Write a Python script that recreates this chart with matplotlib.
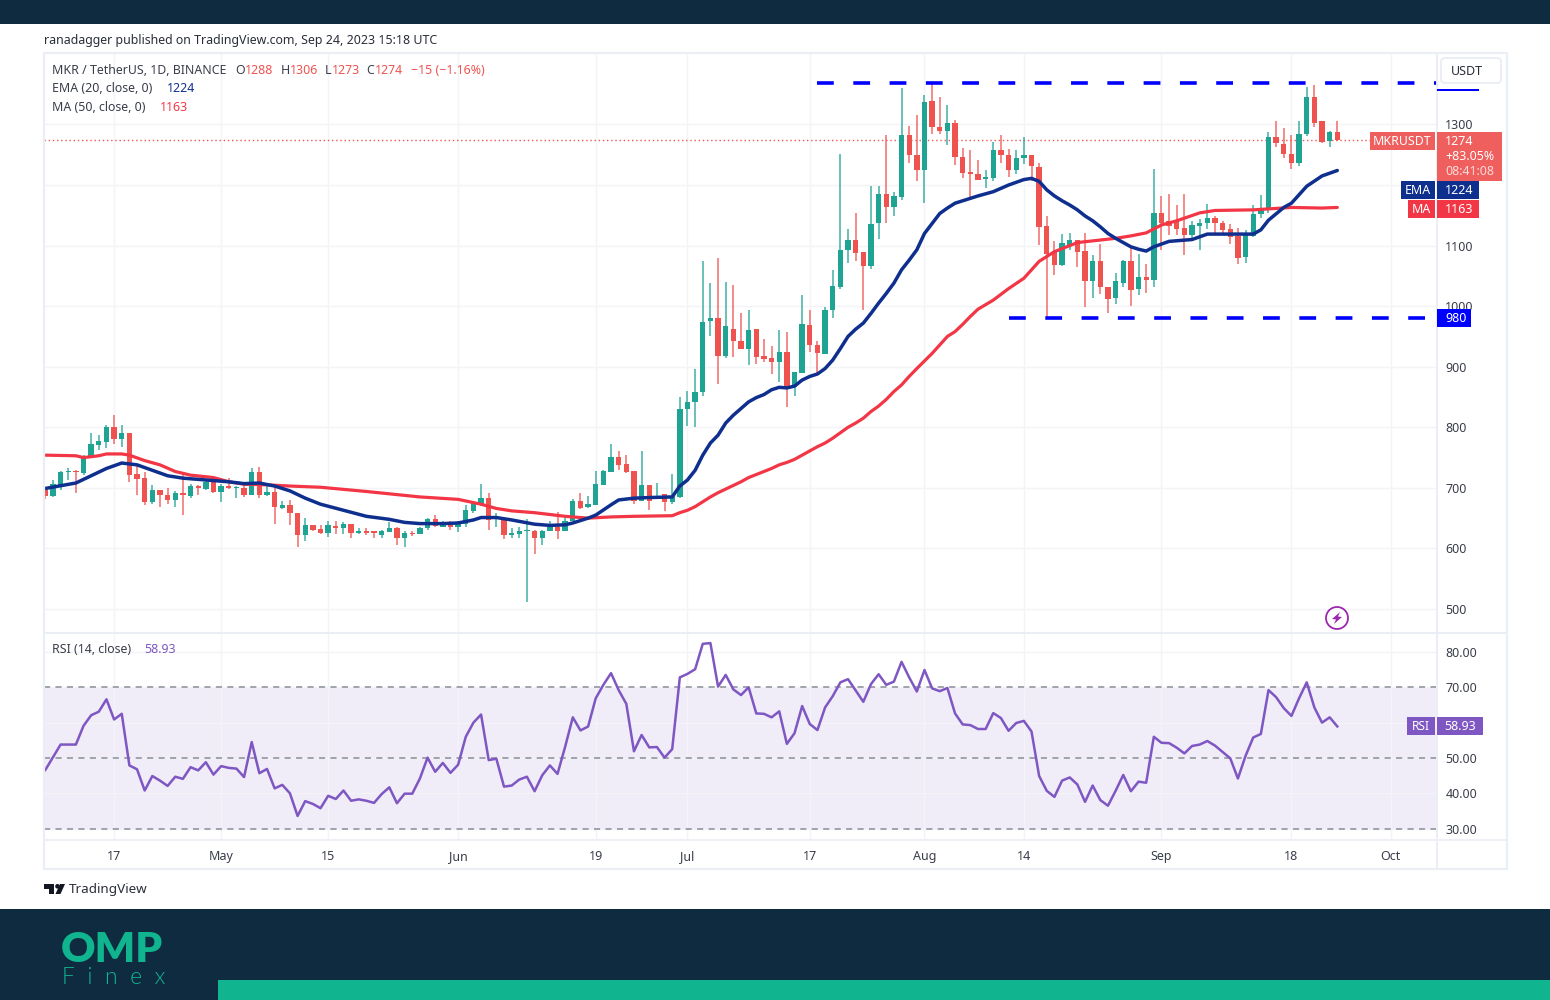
import matplotlib
matplotlib.use('Agg')
import matplotlib.pyplot as plt
import matplotlib.dates as mdates
from matplotlib.patches import Rectangle, FancyBboxPatch, Circle, Polygon
import numpy as np
import pandas as pd

plt.rcParams['font.family'] = ['Noto Sans', 'DejaVu Sans']

# daily candles, Apr 8 .. Sep 24 2023
start_date = '2023-04-08'
opens = [696, 687, 701, 726, 728, 725, 752, 771, 776, 801,
         780, 790, 723, 717, 677, 697, 688, 680, 691, 687,
         703, 698, 709, 693, 703, 699, 700, 689, 726, 688,
         693, 667, 672, 659, 622, 638, 632, 626, 637, 633,
         640, 625, 628, 628, 622, 627, 634, 617, 625, 624,
         633, 648, 636, 643, 635, 640, 662, 673, 683, 648,
         648, 622, 624, 628, 629, 617, 628, 635, 628, 646,
         679, 669, 672, 705, 727, 751, 739, 728, 678, 705,
         682, 690, 677, 685, 831, 842, 858, 976, 980, 917,
         963, 943, 930, 963, 917, 914, 908, 924, 867, 890,
         969, 936, 921, 993, 1031, 1092, 1109, 1089, 1066, 1137,
         1185, 1164, 1180, 1283, 1250, 1224, 1339, 1296, 1289, 1303,
         1247, 1222, 1218, 1210, 1211, 1258, 1250, 1224, 1244, 1250,
         1230, 1132, 1090, 1068, 1099, 1110, 1091, 1041, 1075, 1031,
         1013, 1039, 1075, 1028, 1048, 1044, 1154, 1141, 1141, 1129,
         1117, 1133, 1137, 1145, 1138, 1127, 1116, 1081, 1116, 1152,
         1159, 1279, 1268, 1252, 1237, 1285, 1346, 1305, 1272, 1288]
highs = [700, 713, 728, 732, 729, 754, 790, 787, 803, 821,
         804, 790, 738, 727, 705, 697, 699, 695, 721, 707,
         704, 714, 710, 707, 716, 703, 705, 732, 734, 706,
         701, 678, 680, 659, 650, 639, 639, 646, 645, 644,
         641, 634, 634, 628, 630, 643, 636, 629, 629, 636,
         650, 656, 645, 646, 645, 672, 678, 706, 692, 658,
         650, 634, 636, 648, 630, 630, 646, 660, 650, 682,
         692, 686, 728, 730, 772, 761, 754, 728, 761, 705,
         708, 690, 723, 850, 860, 897, 1075, 1038, 1080, 1040,
         1035, 989, 993, 963, 946, 935, 961, 958, 892, 1018,
         994, 942, 998, 1059, 1251, 1127, 1154, 1089, 1198, 1198,
         1283, 1189, 1361, 1298, 1316, 1348, 1370, 1345, 1332, 1307,
         1261, 1258, 1241, 1225, 1271, 1283, 1260, 1258, 1280, 1250,
         1236, 1149, 1107, 1119, 1120, 1110, 1120, 1084, 1102, 1031,
         1054, 1077, 1098, 1086, 1069, 1227, 1182, 1185, 1167, 1185,
         1141, 1144, 1169, 1149, 1140, 1136, 1129, 1126, 1167, 1183,
         1288, 1305, 1294, 1283, 1305, 1362, 1365, 1306, 1290, 1306]
lows = [682, 685, 697, 713, 692, 721, 750, 762, 765, 773,
        767, 709, 689, 671, 674, 669, 674, 669, 655, 684,
        689, 696, 692, 677, 698, 684, 685, 688, 684, 686,
        640, 665, 639, 603, 612, 628, 624, 619, 624, 624,
        618, 624, 622, 618, 618, 627, 606, 602, 620, 624,
        631, 635, 635, 631, 627, 636, 658, 670, 630, 635,
        616, 618, 618, 511, 591, 606, 628, 615, 628, 646,
        665, 666, 671, 704, 727, 729, 724, 674, 678, 663,
        681, 662, 674, 684, 802, 800, 851, 950, 871, 914,
        916, 929, 903, 905, 908, 888, 875, 833, 852, 890,
        925, 888, 921, 981, 1029, 1072, 1075, 994, 1061, 1111,
        1138, 1149, 1175, 1236, 1206, 1170, 1284, 1285, 1266, 1233,
        1211, 1175, 1209, 1195, 1207, 1237, 1213, 1218, 1235, 1206,
        1101, 982, 1052, 1066, 1093, 1064, 999, 1013, 1020, 988,
        1003, 1032, 1001, 1019, 1021, 1032, 1092, 1118, 1118, 1084,
        1109, 1092, 1127, 1118, 1119, 1103, 1070, 1072, 1115, 1145,
        1154, 1262, 1244, 1227, 1231, 1281, 1295, 1269, 1263, 1273]
closes = [686, 706, 727, 728, 726, 752, 772, 777, 801, 780,
          790, 722, 715, 677, 697, 689, 680, 692, 688, 703,
          699, 709, 693, 703, 699, 701, 689, 726, 689, 693,
          668, 672, 659, 622, 638, 630, 625, 638, 633, 640,
          626, 628, 626, 626, 629, 634, 617, 625, 624, 634,
          649, 637, 643, 635, 642, 663, 676, 683, 647, 652,
          622, 625, 629, 630, 617, 629, 636, 628, 646, 679,
          667, 674, 706, 728, 751, 738, 727, 679, 705, 679,
          687, 677, 686, 831, 842, 859, 974, 981, 917, 967,
          943, 930, 960, 916, 912, 908, 924, 864, 892, 971,
          936, 923, 993, 1034, 1093, 1109, 1088, 1066, 1136, 1185,
          1164, 1182, 1283, 1250, 1224, 1337, 1295, 1289, 1303, 1246,
          1220, 1218, 1209, 1213, 1258, 1249, 1224, 1245, 1250, 1231,
          1131, 1086, 1068, 1104, 1109, 1090, 1041, 1075, 1032, 1012,
          1042, 1075, 1027, 1048, 1044, 1154, 1138, 1133, 1128, 1117,
          1134, 1137, 1145, 1137, 1126, 1115, 1079, 1118, 1152, 1159,
          1279, 1269, 1251, 1237, 1284, 1346, 1302, 1271, 1288, 1274]

# moving averages read at selected days (1 = first candle)
ema_days = [1, 5, 7, 9, 11, 13, 15, 17, 19, 22, 25, 27, 29, 31, 33, 35, 37, 40, 43, 46,
            48, 50, 53, 55, 57, 58, 60, 62, 65, 67, 69, 70, 72, 73, 75, 76, 78, 80, 83, 84,
            85, 86, 87, 88, 89, 90, 91, 92, 93, 94, 95, 96, 97, 98, 99, 100, 101, 102, 103, 104,
            105, 106, 107, 108, 109, 110, 111, 112, 113, 114, 115, 116, 118, 119, 120, 121, 122, 123, 125, 127,
            129, 130, 131, 132, 133, 134, 135, 136, 137, 138, 139, 140, 141, 142, 143, 144, 145, 146, 148, 151,
            153, 157, 159, 160, 161, 163, 164, 165, 166, 168, 170]
ema_vals = [699, 708, 720, 732, 741, 738, 729, 720, 716, 713, 710, 707, 708, 703, 695, 683, 673, 663, 653, 648,
            643, 641, 641, 642, 647, 651, 651, 647, 640, 638, 639, 642, 650, 655, 672, 680, 683, 684, 685, 703,
            713, 729, 754, 774, 787, 807, 820, 831, 842, 849, 854, 862, 866, 865, 868, 878, 884, 888, 897, 911,
            930, 950, 962, 972, 988, 1005, 1021, 1038, 1060, 1076, 1093, 1120, 1153, 1162, 1170, 1174, 1178, 1182, 1189, 1200,
            1209, 1211, 1206, 1192, 1182, 1174, 1167, 1159, 1149, 1141, 1131, 1120, 1112, 1105, 1098, 1094, 1091, 1098, 1107, 1110,
            1119, 1119, 1119, 1126, 1142, 1163, 1170, 1184, 1198, 1215, 1224]
ma_days = [1, 5, 6, 8, 9, 11, 12, 14, 16, 18, 20, 23, 25, 27, 30, 33, 37, 43, 50, 55,
           58, 60, 62, 65, 69, 72, 75, 78, 83, 84, 85, 86, 87, 88, 89, 90, 91, 92, 93, 94,
           95, 96, 97, 98, 99, 100, 101, 102, 103, 104, 105, 106, 107, 108, 109, 110, 111, 112, 113, 114,
           115, 117, 119, 120, 121, 122, 123, 125, 127, 129, 131, 133, 136, 141, 143, 145, 147, 149, 152, 154,
           159, 164, 168, 170]
ma_vals = [754, 753, 750, 753, 756, 756, 754, 745, 738, 727, 721, 717, 710, 706, 705, 703, 701, 694, 685, 681,
           673, 666, 662, 659, 653, 650, 652, 653, 654, 659, 663, 669, 677, 685, 692, 698, 704, 710, 717, 722,
           727, 732, 738, 742, 747, 754, 761, 768, 774, 782, 791, 800, 807, 815, 826, 835, 846, 859, 870, 884,
           897, 922, 950, 958, 970, 983, 995, 1010, 1029, 1046, 1074, 1090, 1105, 1112, 1116, 1121, 1134, 1141, 1154, 1158,
           1159, 1163, 1162, 1163]

rsi = [46.6, 50.2, 53.8, 53.8, 53.8, 59.1, 62.1, 63.1, 66.6, 60.9,
       62.5, 47.9, 46.8, 40.8, 44.9, 43.6, 42.1, 44.7, 44.1, 47.4,
       46.5, 48.8, 45.3, 47.7, 47.2, 47.0, 44.6, 54.5, 45.7, 46.9,
       41.4, 42.4, 40.0, 33.6, 37.8, 37.0, 35.8, 39.3, 38.4, 40.8,
       37.9, 38.3, 37.9, 37.3, 39.8, 41.7, 37.2, 39.9, 39.9, 44.2,
       50.1, 46.1, 48.6, 45.8, 48.1, 56.0, 60.0, 62.3, 49.4, 49.8,
       41.9, 42.2, 43.9, 44.7, 40.6, 45.1, 47.9, 45.5, 53.2, 61.5,
       57.8, 58.9, 66.9, 70.7, 74.0, 69.2, 65.3, 51.9, 56.5, 53.0,
       53.1, 50.1, 52.5, 72.8, 73.8, 75.1, 82.3, 82.5, 70.2, 73.5,
       69.4, 67.8, 70.0, 62.6, 62.5, 61.5, 63.2, 54.0, 57.0, 64.7,
       59.6, 57.9, 64.3, 67.5, 71.4, 72.3, 69.1, 65.9, 70.9, 73.7,
       70.7, 71.6, 77.2, 72.8, 68.8, 74.9, 69.7, 68.9, 69.8, 62.6,
       59.5, 59.3, 58.2, 58.2, 62.7, 61.3, 57.7, 59.9, 60.5, 57.5,
       44.9, 40.7, 39.0, 43.6, 44.5, 42.5, 37.6, 42.2, 38.1, 36.5,
       40.7, 45.2, 40.6, 43.3, 43.0, 56.0, 54.3, 54.2, 52.9, 51.3,
       53.4, 53.8, 54.8, 53.5, 51.7, 49.9, 44.2, 50.6, 55.8, 56.8,
       69.2, 67.2, 64.1, 61.9, 66.9, 71.4, 64.3, 60.0, 61.5, 58.93]

price_ticks = [500, 600, 700, 800, 900, 1000, 1100, 1200, 1300]
price_tick_labels = ['500', '600', '700', '800', '900', '1000', '1100', '', '1300']
rsi_ticks = [30, 40, 50, 60, 70, 80]
rsi_tick_labels = ['30.00', '40.00', '50.00', '', '70.00', '80.00']
date_ticks = ['2023-04-17', '2023-05-01', '2023-05-15', '2023-06-01', '2023-06-19', '2023-07-01',
              '2023-07-17', '2023-08-01', '2023-08-14', '2023-09-01', '2023-09-18', '2023-10-01']
date_labels = ['17', 'May', '15', 'Jun', '19', 'Jul', '17', 'Aug', '14', 'Sep', '18', 'Oct']
resistance = 1369
support = 980
resistance_from = '2023-07-18'
support_from = '2023-08-12'
last_price = 1274

BAND = '#0f2b3f'
TEAL = '#10b48f'
UP = '#1fa393'
DOWN = '#ef5350'
NAVY = '#0f2f8f'
MA_RED = '#f23645'
PURPLE = '#7e57c2'
LINE_BLUE = '#0000ff'
GRID = '#f3f4f8'
BORDER = '#eceef5'
INK = '#3a3e4a'
W, H = 1550, 1000


def px_axes(left, top, right, bottom, **kw):
    return fig.add_axes([left / W, 1 - bottom / H, (right - left) / W, (bottom - top) / H], **kw)


fig = plt.figure(figsize=(15.5, 10), dpi=100, facecolor='white')

days = mdates.date2num(pd.date_range(start_date, periods=len(closes)))
px_per_day = 7.645
x0 = days[0] - (45.3 - 44) / px_per_day
x1 = days[0] + (1437 - 45.3) / px_per_day
ticks = mdates.date2num(pd.to_datetime(date_ticks))

# price pane
ax = px_axes(44, 53, 1437, 632)
ax.set_xlim(x0, x1)
ax.set_ylim(462, 1418)
ax.set_yticks(price_ticks)
ax.set_yticklabels(price_tick_labels)
ax.set_xticks(ticks)
ax.set_xticklabels([])
ax.yaxis.tick_right()
ax.tick_params(length=0, labelsize=9, labelcolor=INK, pad=6)
ax.grid(color=GRID, lw=1)
ax.set_axisbelow(True)
for s in ax.spines.values():
    s.set_visible(False)

o = np.array(opens)
c = np.array(closes)
colors = [UP if b >= a else DOWN for a, b in zip(o, c)]
ax.vlines(days, lows, highs, colors=colors, lw=1.1, alpha=0.85, zorder=2)
ax.bar(days, np.maximum(np.abs(c - o), 2), bottom=np.minimum(o, c), width=0.7, color=colors, zorder=3)

ax.plot(days[np.array(ma_days) - 1], ma_vals, color=MA_RED, lw=2.3, zorder=4, solid_capstyle='round')
ax.plot(days[np.array(ema_days) - 1], ema_vals, color=NAVY, lw=2.5, zorder=5, solid_capstyle='round')

ax.axhline(last_price, color=DOWN, lw=1, ls=(0, (1, 2)), zorder=1)
for level, when in [(resistance, resistance_from), (support, support_from)]:
    ax.plot([mdates.date2num(pd.Timestamp(when)), x1], [level, level], color=LINE_BLUE, lw=2.6,
            ls=(0, (4.65, 5.4)), dash_capstyle='butt', zorder=6)

# rsi pane
ax2 = px_axes(44, 633, 1437, 840)
ax2.set_xlim(x0, x1)
ax2.set_ylim(26.8, 85.36)
ax2.axhspan(30, 70, color=PURPLE, alpha=0.11, lw=0, zorder=0)
ax2.set_yticks(rsi_ticks)
ax2.set_yticklabels(rsi_tick_labels)
ax2.set_xticks(ticks)
ax2.set_xticklabels(date_labels)
ax2.yaxis.tick_right()
ax2.tick_params(axis='y', length=0, labelsize=9, labelcolor=INK, pad=6)
ax2.tick_params(axis='x', length=0, labelsize=9, labelcolor=INK, pad=7.5)
ax2.grid(color=GRID, lw=1)
ax2.set_axisbelow(True)
for s in ax2.spines.values():
    s.set_visible(False)
for level in [70, 50, 30]:
    ax2.axhline(level, color='#8a8d96', lw=1.1, ls=(0, (4, 3.5)), zorder=1)
ax2.plot(days, rsi, color=PURPLE, lw=1.8, zorder=4)

# everything around the panes, in image pixels
ov = fig.add_axes([0, 0, 1, 1], zorder=10)
ov.set_xlim(0, W)
ov.set_ylim(H, 0)
ov.axis('off')
ov.patch.set_alpha(0)


def box(x, y, x2, y2, color, z=3):
    ov.add_patch(Rectangle((x, y), x2 - x, y2 - y, facecolor=color, edgecolor='none', zorder=z))


def label(x, y, s, color=INK, size=9, ha='left', weight='normal', **kw):
    ov.text(x, y, s, color=color, fontsize=size, ha=ha, va='center', fontweight=weight, **kw)


box(0, 0, W, 24, BAND)
box(0, 909, W, H, BAND)
box(218, 980, W, H, TEAL)

ov.add_patch(Rectangle((44, 53), 1463, 816, facecolor='none', edgecolor=BORDER, lw=1.6))
ov.plot([44, 1507], [632.5, 632.5], color=BORDER, lw=1.4)
ov.plot([1437, 1437], [53, 869], color=BORDER, lw=1.4)
ov.plot([44, 1507], [840, 840], color=BORDER, lw=1.2)

label(44, 40.5, 'ranadagger published on TradingView.com, Sep 24, 2023 15:18 UTC', color='#2a2e39', size=8.95)

label(52, 70.5, 'MKR / TetherUS, 1D, BINANCE', size=8.9)
for x, s, col in [(235.5, 'O', INK), (245, '1288', DOWN), (280.5, 'H', INK), (290, '1306', DOWN),
                  (325, 'L', INK), (332, '1273', DOWN), (366.5, 'C', INK), (375, '1274', DOWN),
                  (411, '\u221215 (\u22121.16%)', DOWN)]:
    label(x, 70.5, s, color=col, size=8.9)
label(52, 88.5, 'EMA (20, close, 0)', size=8.9)
label(167, 88.5, '1224', color=NAVY, size=8.9)
label(52, 107.5, 'MA (50, close, 0)', size=8.9)
label(160, 107.5, '1163', color=MA_RED, size=8.9)
label(52, 649.5, 'RSI (14, close)', size=8.9)
label(144, 649.5, '58.93', color=PURPLE, size=8.9)

# price scale tags
ov.add_patch(FancyBboxPatch((1441, 58), 60, 25, boxstyle='round,pad=0,rounding_size=4',
                            facecolor='white', edgecolor=BORDER, lw=1.4, zorder=4))
label(1451, 71.5, 'USDT', color='#2a2e39', size=9, zorder=5)
box(1437, 89, 1479, 91, LINE_BLUE)

box(1370, 132, 1435, 150, '#ee5f5d')
label(1402.5, 141.5, 'MKRUSDT', color='white', ha='center', size=8.9, zorder=5)
box(1437, 132, 1502, 181, '#ee5f5d')
label(1445, 141.5, '1274', color='white', size=9, zorder=5)
label(1445, 156.5, '+83.05%', color='white', size=8.9, zorder=5)
label(1445, 171.5, '08:41:08', color='#fbdcdb', size=8.9, zorder=5)
box(1401, 181, 1435, 199, NAVY)
label(1418, 190.5, 'EMA', color='white', ha='center', size=8.9, zorder=5)
box(1437, 181, 1479, 199, NAVY)
label(1445, 190.5, '1224', color='white', size=9, zorder=5)
box(1408, 200, 1435, 218, MA_RED)
label(1421.5, 209.5, 'MA', color='white', ha='center', size=8.9, zorder=5)
box(1437, 200, 1479, 218, MA_RED)
label(1445, 209.5, '1163', color='white', size=9, zorder=5)
box(1437, 309, 1471, 327, LINE_BLUE)
label(1445, 318.5, str(support), color='white', size=9, zorder=5)
box(1407, 717, 1435, 735, PURPLE)
label(1421, 726.5, 'RSI', color='white', ha='center', size=8.6, zorder=5)
box(1437, 717, 1483, 735, PURPLE)
label(1444, 726.5, '58.93', color='white', size=9, zorder=5)

# lightning mark
ov.add_patch(Circle((1337, 618), 11, facecolor='white', edgecolor='#9c27b0', lw=1.3, zorder=6))
ov.add_patch(Polygon([(1340, 612), (1332, 619), (1336, 619.5), (1334, 624), (1342, 617), (1338, 616.5)],
                     closed=True, facecolor='#9c27b0', edgecolor='none', zorder=7))

# TradingView mark and name
ov.add_patch(Polygon([(44, 884), (54, 884), (54, 894), (49, 894), (49, 888.5), (44, 888.5)],
                     closed=True, facecolor='#131722', edgecolor='none'))
ov.add_patch(Circle((57.5, 886.3), 2.3, facecolor='#131722', edgecolor='none'))
ov.add_patch(Polygon([(60, 884), (65, 884), (60.5, 894), (55.5, 894)],
                     closed=True, facecolor='#131722', edgecolor='none'))
label(69, 889.5, 'TradingView', color='#2a2e39', size=9.7)

# site logo
ov.text(61, 950, 'OMP', color=TEAL, fontsize=30.5, fontweight='heavy', family='Lato', ha='left', va='center')
ov.text(62, 978, 'F  i  n  e  x', color=TEAL, fontsize=16.5, family='Lato', fontweight=300, ha='left', va='center')

fig.savefig('out.png', dpi=100, facecolor='white')
